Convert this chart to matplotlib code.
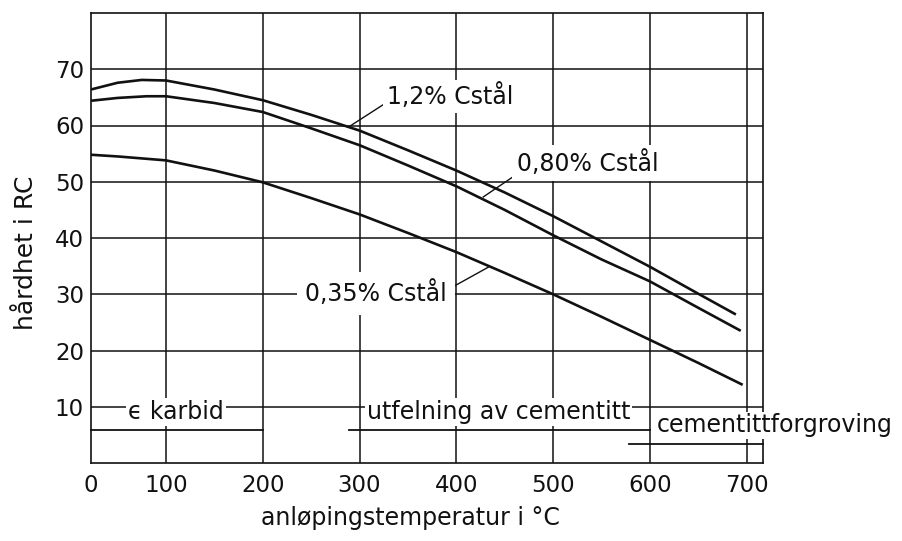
import matplotlib
matplotlib.use('Agg')
import matplotlib.pyplot as plt

# ---- data ----
temp_12 = [22.5, 50, 75, 100, 150, 200, 250, 300, 350, 400, 450, 500, 550, 600, 650, 689]
hrc_12 = [66.4, 67.6, 68.1, 68.0, 66.4, 64.5, 61.9, 59.1, 55.6, 52.0, 48.1, 43.9, 39.4, 34.9, 30.1, 26.4]

temp_080 = [22.5, 50, 80, 100, 150, 200, 250, 300, 350, 400, 450, 500, 550, 600, 650, 694]
hrc_080 = [64.4, 64.9, 65.2, 65.2, 64.0, 62.4, 59.5, 56.5, 52.9, 49.2, 45.0, 40.5, 36.2, 32.3, 27.6, 23.5]

temp_035 = [22.5, 50, 100, 150, 200, 250, 300, 350, 400, 450, 500, 550, 600, 650, 696]
hrc_035 = [54.8, 54.5, 53.8, 52.0, 49.9, 47.1, 44.2, 40.9, 37.5, 33.8, 30.0, 26.0, 21.9, 17.8, 13.9]

series_labels = ['1,2% Cstål', '0,80% Cstål', '0,35% Cstål']

phase_labels = ['ϵ karbid', 'utfelning av cementitt', 'cementittforgroving']
phase_start = [22.5, 289, 579]
phase_end = [200, 600, 717]
phase_level = [5.8, 5.8, 3.4]

xtick_pos = [22.5, 100, 200, 300, 400, 500, 600, 700]
xtick_labels = ['0', '100', '200', '300', '400', '500', '600', '700']
ytick_pos = [10, 20, 30, 40, 50, 60, 70]
ytick_labels = ['10', '20', '30', '40', '50', '60', '70']

FONT = ['DejaVu Sans']
plt.rcParams['font.family'] = FONT

W, H = 903, 541
fig = plt.figure(figsize=(W / 100, H / 100), dpi=100)
ax = fig.add_axes([91 / W, 1 - 463 / H, (763 - 91) / W, (463 - 13) / H])
ax.set_xlim(22.5, 717)
ax.set_ylim(0, 80)

ink = '#111111'
grid_lw = 1.1
for s in ax.spines.values():
    s.set_linewidth(1.2)
    s.set_color(ink)
    s.set_zorder(2.5)

# grid lines
for x in xtick_pos[1:]:
    ax.axvline(x, color=ink, lw=grid_lw, zorder=1)
for y in ytick_pos:
    ax.axhline(y, color=ink, lw=grid_lw, zorder=1)

ax.set_xticks(xtick_pos)
ax.set_xticklabels(xtick_labels)
ax.set_yticks(ytick_pos)
ax.set_yticklabels(ytick_labels)
ax.tick_params(axis='both', length=0, labelsize=16.5, colors=ink)
ax.tick_params(axis='x', pad=8)
ax.tick_params(axis='y', pad=5)

# curves
lw = 1.9
ax.plot(temp_12, hrc_12, color=ink, lw=lw, zorder=3, solid_capstyle='butt')
ax.plot(temp_080, hrc_080, color=ink, lw=lw, zorder=3, solid_capstyle='butt')
ax.plot(temp_035, hrc_035, color=ink, lw=lw, zorder=3, solid_capstyle='butt')

fs = 17
def label(x, y, s, pad, ha='left'):
    ax.text(x, y, s, ha=ha, va='baseline', fontsize=fs, color=ink, zorder=6,
            clip_on=False,
            bbox=dict(boxstyle=f'square,pad={pad}', fc='white', ec='none'))

# curve labels with leader lines
label(328.2, 63.8, series_labels[0], 0.15)
ax.plot([326.3, 288.4], [63.9, 59.7], color=ink, lw=1.0, zorder=4)
label(462.4, 51.9, series_labels[1], 0.2)
ax.plot([460.6, 427.9], [51.1, 47.3], color=ink, lw=1.0, zorder=4)
label(243.6, 28.75, series_labels[2], 0.35)
ax.plot([390.0, 433.0], [30.7, 34.8], color=ink, lw=1.0, zorder=4)

# phase ranges
for a, b, lv in zip(phase_start, phase_end, phase_level):
    ax.plot([a, b], [lv, lv], color=ink, lw=1.3, zorder=3, clip_on=False)
label(60.7, 7.8, phase_labels[0], 0.08)
label(307.4, 7.8, phase_labels[1], 0.08)
label(607.7, 5.43, phase_labels[2], 0.06)

fig.text(26 / W, 1 - 253 / H, 'hårdhet i RC', rotation=90, ha='center', va='center',
         fontsize=18, color=ink)
fig.text(410 / W, 1 - 525 / H, 'anløpingstemperatur i °C', ha='center', va='baseline',
         fontsize=17, color=ink)

fig.savefig('out.png', dpi=100, facecolor='white')
